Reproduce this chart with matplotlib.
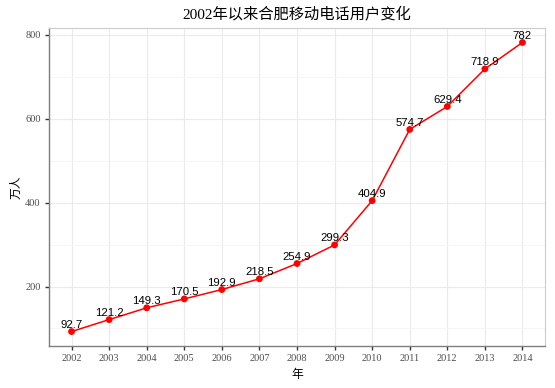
import matplotlib
matplotlib.use("Agg")
from matplotlib import pyplot as plt
from matplotlib.ticker import MultipleLocator

years = [2002, 2003, 2004, 2005, 2006, 2007, 2008, 2009, 2010, 2011, 2012, 2013, 2014]
users = [92.7, 121.2, 149.3, 170.5, 192.9, 218.5, 254.9, 299.3, 404.9, 574.7, 629.4, 718.9, 782]
labels = ["92.7", "121.2", "149.3", "170.5", "192.9", "218.5", "254.9", "299.3",
          "404.9", "574.7", "629.4", "718.9", "782"]

serif_cjk = ["Liberation Serif", "Noto Sans CJK SC"]

fig = plt.figure(figsize=(5.55, 3.88), dpi=100)
ax = fig.add_axes([0.0883, 0.1082, 0.8937, 0.8196])

ax.plot(years, users, color="#FF0000", lw=1.1, zorder=3)
ax.scatter(years, users, color="#FF0000", s=24, zorder=4, edgecolors="none")
for x, y, t in zip(years, users, labels):
    ax.annotate(t, (x, y), xytext=(0, 2.5), textcoords="offset points",
                ha="center", va="baseline", fontsize=8.2, family="Liberation Sans",
                color="black", zorder=5)

ax.set_xlim(2001.4, 2014.6)
ax.set_ylim(58.2, 816.5)
ax.set_xticks(years)
ax.set_yticks([200, 400, 600, 800])
ax.yaxis.set_minor_locator(MultipleLocator(100))
ax.grid(True, which="major", color="#EBEBEB", lw=0.8)
ax.grid(True, which="minor", axis="y", color="#F5F5F5", lw=0.6)
ax.set_axisbelow(True)

for side in ["top", "right"]:
    ax.spines[side].set_color("#CCCCCC")
    ax.spines[side].set_linewidth(0.8)
for side in ["left", "bottom"]:
    ax.spines[side].set_color("#7F7F7F")
    ax.spines[side].set_linewidth(1.0)

ax.tick_params(which="major", direction="out", length=3, width=1, color="#333333",
               labelsize=7.5, labelcolor="#4D4D4D", pad=3)
ax.tick_params(which="minor", length=0)
for lab in ax.get_xticklabels() + ax.get_yticklabels():
    lab.set_family("Liberation Serif")

ax.set_xlabel("年", family=serif_cjk, fontsize=8.5, labelpad=4)
ax.set_ylabel("万人", family=serif_cjk, fontsize=8.5, labelpad=2)
ax.set_title("2002年以来合肥移动电话用户变化", family=serif_cjk, fontsize=11, pad=7)

fig.savefig("out.png", dpi=100)
